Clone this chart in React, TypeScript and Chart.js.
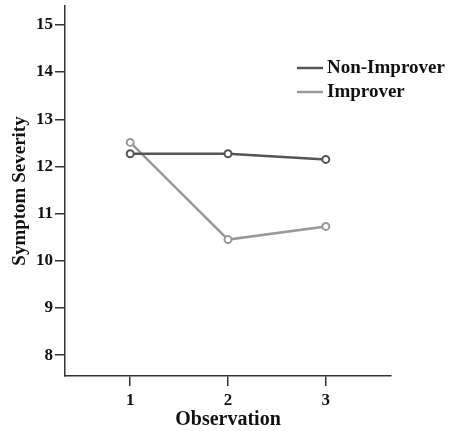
import React, { useEffect, useRef } from "react";
import { Chart, registerables } from "chart.js";

Chart.register(...registerables);

const observations = [1, 2, 3];
const nonImprover = [12.27, 12.27, 12.15];
const improver = [12.51, 10.45, 10.73];
const seriesLabels = ["Non-Improver", "Improver"];
const yTicks = [8, 9, 10, 11, 12, 13, 14, 15];
const xTicks = [1, 2, 3];

const FONT = "'Liberation Serif', 'Times New Roman', serif";
const DARK = "#555555";
const LIGHT = "#999999";
const AXIS = "#333333";

const legendPlugin = {
  id: "customLegend",
  afterDraw(chart: any) {
    const ctx = chart.ctx;
    const rows = [
      { label: chart.data.datasets[0].label, color: DARK, y: 68 },
      { label: chart.data.datasets[1].label, color: LIGHT, y: 92 },
    ];
    ctx.save();
    ctx.font = `bold 19px ${FONT}`;
    ctx.textBaseline = "middle";
    ctx.textAlign = "left";
    for (const r of rows) {
      ctx.strokeStyle = r.color;
      ctx.lineWidth = 2.5;
      ctx.beginPath();
      ctx.moveTo(297, r.y);
      ctx.lineTo(323, r.y);
      ctx.stroke();
      ctx.fillStyle = "#111";
      ctx.fillText(r.label, 327, r.y);
    }
    ctx.restore();
  },
};

export default function App() {
  const ref = useRef<HTMLCanvasElement>(null);
  useEffect(() => {
    const canvas = ref.current!;
    const chart = new Chart(canvas, {
      type: "line",
      data: {
        datasets: [
          {
            label: seriesLabels[0],
            data: observations.map((x, i) => ({ x, y: nonImprover[i] })),
            borderColor: DARK,
            backgroundColor: "#ffffff",
            borderWidth: 2.5,
            pointRadius: 3.5,
            pointBorderWidth: 2,
            pointBorderColor: DARK,
            pointBackgroundColor: "#ffffff",
          },
          {
            label: seriesLabels[1],
            data: observations.map((x, i) => ({ x, y: improver[i] })),
            borderColor: LIGHT,
            backgroundColor: "#ffffff",
            borderWidth: 2.5,
            pointRadius: 3.5,
            pointBorderWidth: 2,
            pointBorderColor: LIGHT,
            pointBackgroundColor: "#ffffff",
          },
        ],
      },
      options: {
        animation: false,
        responsive: false,
        maintainAspectRatio: false,
        layout: { padding: { top: 5, right: 59, left: 0, bottom: 0 } },
        plugins: { legend: { display: false }, tooltip: { enabled: false } },
        scales: {
          x: {
            type: "linear",
            min: 1 / 3,
            max: 11 / 3,
            afterBuildTicks: (s: any) => {
              s.ticks = xTicks.map((v) => ({ value: v }));
            },
            afterFit: (s: any) => {
              s.height = 55;
              s.paddingLeft = 0;
              s.paddingRight = 0;
            },
            grid: { drawOnChartArea: false, drawTicks: true, tickLength: 10, color: AXIS, lineWidth: 1.5 },
            border: { display: true, color: AXIS, width: 1.5 },
            ticks: { color: "#111", font: { family: FONT, size: 17, weight: "bold" }, padding: 4 },
            title: {
              display: true,
              text: "Observation",
              color: "#111",
              font: { family: FONT, size: 20, weight: "bold", lineHeight: 1.1 },
              padding: { top: 0, bottom: 0 },
            },
          },
          y: {
            type: "linear",
            min: 7.56,
            max: 15.4,
            afterBuildTicks: (s: any) => {
              s.ticks = yTicks.map((v) => ({ value: v }));
            },
            afterFit: (s: any) => {
              s.width = 65;
              s.paddingTop = 0;
              s.paddingBottom = 0;
            },
            grid: { drawOnChartArea: false, drawTicks: true, tickLength: 10, color: AXIS, lineWidth: 1.5 },
            border: { display: true, color: AXIS, width: 1.5 },
            ticks: { color: "#111", font: { family: FONT, size: 17, weight: "bold" }, padding: 2 },
            title: {
              display: true,
              text: "Symptom Severity",
              color: "#111",
              font: { family: FONT, size: 19, weight: "bold" },
              padding: { top: 9, bottom: 0 },
            },
          },
        },
      },
      plugins: [legendPlugin],
    } as any);
    return () => chart.destroy();
  }, []);
  return (
    <div style={{ position: "fixed", left: 0, top: 0, width: 450, height: 431, background: "#fff" }}>
      <canvas ref={ref} width={450} height={431} style={{ width: 450, height: 431 }} />
    </div>
  );
}
